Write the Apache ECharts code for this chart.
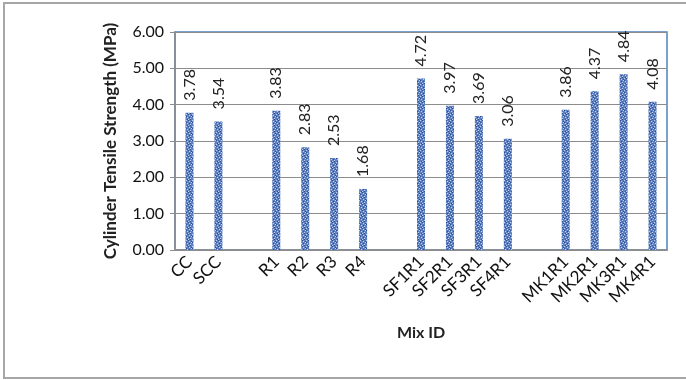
<!DOCTYPE html>
<html>
<head>
<meta charset="utf-8">
<script src="https://cdn.jsdelivr.net/npm/echarts@6/dist/echarts.min.js"></script>
<style>
html,body{margin:0;padding:0;background:#fff;}
#chart{width:686px;height:380px;}
</style>
</head>
<body>
<div id="chart"></div>
<script>
// Mix IDs; empty strings leave a gap between mix groups
const categories = ['CC', 'SCC', '', 'R1', 'R2', 'R3', 'R4', '', 'SF1R1', 'SF2R1', 'SF3R1', 'SF4R1', '', 'MK1R1', 'MK2R1', 'MK3R1', 'MK4R1'];
// Cylinder tensile strength (MPa); '-' for the gap slots
const strength = [3.78, 3.54, '-', 3.83, 2.83, 2.53, 1.68, '-', 4.72, 3.97, 3.69, 3.06, '-', 3.86, 4.37, 4.84, 4.08];
const yTicks = { min: 0, max: 6, interval: 1 };

// speckled blue fill for the bars
function makeTexture() {
  const c = document.createElement('canvas');
  c.width = 6; c.height = 6;
  const g = c.getContext('2d');
  g.fillStyle = '#5c80c2';
  g.fillRect(0, 0, 6, 6);
  const light = [[0,0],[3,1],[1,3],[4,4],[2,5],[5,2]];
  const dark = [[2,0],[5,1],[0,2],[3,3],[1,5],[4,5]];
  g.fillStyle = '#c0d0ee';
  light.forEach(p => g.fillRect(p[0], p[1], 1, 1));
  g.fillStyle = '#2f4f92';
  dark.forEach(p => g.fillRect(p[0], p[1], 1, 1));
  return c;
}

const chart = echarts.init(document.getElementById('chart'), null, { renderer: 'canvas' });
const font = 'Lato, "Liberation Sans", sans-serif';

chart.setOption({
  animation: false,
  backgroundColor: '#fff',
  textStyle: { fontFamily: font },
  graphic: [{
    type: 'rect',
    shape: { x: 4, y: 3, width: 700, height: 375 },
    style: { fill: 'none', stroke: '#a6a6a6', lineWidth: 2 },
    z: -1
  }],
  grid: {
    left: 175, right: 19, top: 32, bottom: 130,
    show: true, borderColor: '#4f81bd', borderWidth: 1.5, backgroundColor: 'transparent'
  },
  xAxis: {
    type: 'category',
    data: categories,
    name: 'Mix ID',
    nameLocation: 'middle',
    nameGap: 75,
    nameTextStyle: { fontSize: 16, fontWeight: 'bold', color: '#222', fontFamily: font },
    axisLine: { lineStyle: { color: '#8c8c8c', width: 1.5 } },
    axisTick: { show: false },
    axisLabel: { interval: 0, rotate: 45, fontSize: 17, color: '#111', margin: 9, fontFamily: font }
  },
  yAxis: {
    type: 'value',
    min: yTicks.min, max: yTicks.max, interval: yTicks.interval,
    name: 'Cylinder Tensile Strength (MPa)',
    nameLocation: 'middle',
    nameGap: 56,
    nameTextStyle: { fontSize: 17, fontWeight: 'bold', color: '#222', fontFamily: font },
    axisLine: { show: true, lineStyle: { color: '#8c8c8c', width: 1.5 } },
    axisTick: { show: true, length: 5, lineStyle: { color: '#8c8c8c' } },
    axisLabel: { fontSize: 16, color: '#111', margin: 11, formatter: v => v.toFixed(2), fontFamily: font },
    splitLine: { lineStyle: { color: '#8c8c8c', width: 1.2 } }
  },
  series: [{
    type: 'bar',
    data: strength,
    barWidth: 8,
    itemStyle: { color: { image: makeTexture(), repeat: 'repeat' } },
    label: {
      show: true,
      position: 'top',
      rotate: 90,
      align: 'left',
      verticalAlign: 'middle',
      distance: 12,
      fontSize: 16,
      color: '#222',
      fontFamily: font,
      formatter: p => p.value.toFixed(2)
    }
  }]
});
</script>
</body>
</html>
